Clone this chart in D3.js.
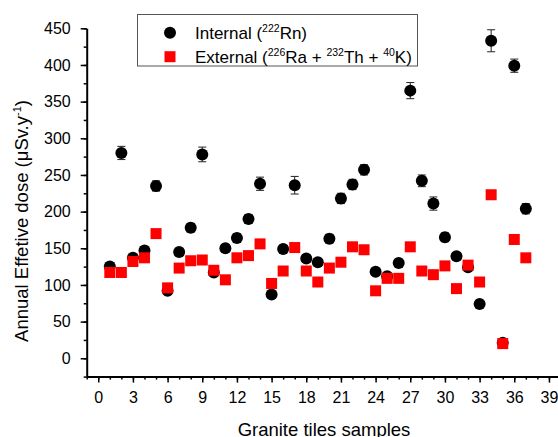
<!DOCTYPE html>
<html>
<head>
<meta charset="utf-8">
<script src="https://cdn.jsdelivr.net/npm/d3@7"></script>
<style>
body { margin: 0; background: #fff; }
svg { display: block; font-family: "Liberation Sans", Arial, sans-serif; }
</style>
</head>
<body>
<svg width="558" height="437"></svg>
<script>
// sample numbers 1..37
var samples = [1,2,3,4,5,6,7,8,9,10,11,12,13,14,15,16,17,18,19,20,21,22,23,24,25,26,27,28,29,30,31,32,33,34,35,36,37];
// Internal (222Rn)
var internal = [125,280,137,147,235,92,145,178,278,117,150,164,190,238,87,149,236,136,131,163,218,237,257,118,112,130,365,242,211,165,139,124,74,433,21,399,204];
var internalErr = [5,9,5,5,7,4,5,6,10,4,5,6,6,9,3,5,12,5,5,6,7,7,7,4,4,5,11,8,9,6,5,4,3,15,1,9,7];
// External (226Ra + 232Th + 40K)
var external = [117,117,132,137,170,96,123,133,134,120,107,137,140,156,102,119,151,119,104,123,131,152,148,92,109,109,152,119,114,126,95,127,104,223,20,162,137];

var xMajor = [0,3,6,9,12,15,18,21,24,27,30,33,36,39];
var yMajor = [0,50,100,150,200,250,300,350,400,450];

var svg = d3.select("svg");

var x = d3.scaleLinear().domain([-1, 40]).range([86.7, 560.5]);
var y = d3.scaleLinear().domain([-25, 450]).range([376.6, 28.3]);

// minor ticks
var xMinor = d3.range(-1, 41);
var yMinor = d3.range(-25, 451, 25);

svg.append("g")
	.attr("transform", "translate(0," + y(-25) + ")")
	.call(d3.axisBottom(x).tickValues(xMinor).tickSize(3).tickFormat(""))
	.call(function(g){ g.select(".domain").remove(); g.selectAll("line").attr("stroke-width", 1.5); });
svg.append("g")
	.attr("transform", "translate(" + x(-1) + ",0)")
	.call(d3.axisLeft(y).tickValues(yMinor).tickSize(3).tickFormat(""))
	.call(function(g){ g.select(".domain").remove(); g.selectAll("line").attr("stroke-width", 1.5); });

var xAxis = svg.append("g")
	.attr("transform", "translate(0," + y(-25) + ")")
	.call(d3.axisBottom(x).tickValues(xMajor).tickSize(6).tickSizeOuter(0).tickPadding(9));
var yAxis = svg.append("g")
	.attr("transform", "translate(" + x(-1) + ",0)")
	.call(d3.axisLeft(y).tickValues(yMajor).tickSize(6).tickSizeOuter(0).tickPadding(10));

[xAxis, yAxis].forEach(function(a){
	a.select(".domain").attr("stroke", "#000").attr("stroke-width", 2);
	a.selectAll(".tick line").attr("stroke", "#000").attr("stroke-width", 1.5);
	a.selectAll(".tick text").attr("fill", "#000").style("font-size", "16px");
});

// error bars
var eb = svg.append("g").attr("stroke", "#222").attr("stroke-width", 1);
samples.forEach(function(s, i){
	var lo = y(internal[i] - internalErr[i]), hi = y(internal[i] + internalErr[i]);
	eb.append("line").attr("x1", x(s)).attr("x2", x(s)).attr("y1", lo).attr("y2", hi);
	eb.append("line").attr("x1", x(s) - 4).attr("x2", x(s) + 4).attr("y1", lo).attr("y2", lo);
	eb.append("line").attr("x1", x(s) - 4).attr("x2", x(s) + 4).attr("y1", hi).attr("y2", hi);
});

svg.append("g").selectAll("circle")
	.data(samples)
	.join("circle")
	.attr("cx", function(d){ return x(d); })
	.attr("cy", function(d, i){ return y(internal[i]); })
	.attr("r", 6)
	.attr("fill", "#000");

svg.append("g").selectAll("rect")
	.data(samples)
	.join("rect")
	.attr("x", function(d){ return x(d) - 5.5; })
	.attr("y", function(d, i){ return y(external[i]) - 5.5; })
	.attr("width", 11)
	.attr("height", 11)
	.attr("fill", "#ff0000");

// axis titles
svg.append("text")
	.attr("x", 324)
	.attr("y", 436)
	.attr("text-anchor", "middle")
	.style("font-size", "18.5px")
	.text("Granite tiles samples");

var yt = svg.append("text")
	.attr("transform", "translate(27.5,221) rotate(-90)")
	.attr("text-anchor", "middle")
	.style("font-size", "18.5px");
yt.append("tspan").text("Annual Effetive dose (\u03bcSv.y");
yt.append("tspan").attr("dy", "-7").style("font-size", "11px").text("-1");
yt.append("tspan").attr("dy", "7").text(")");

// legend
var lg = svg.append("g");
lg.append("rect")
	.attr("x", 137.5).attr("y", 14.5)
	.attr("width", 280).attr("height", 51.5)
	.attr("fill", "#fff").attr("stroke", "#555").attr("stroke-width", 1);
lg.append("circle").attr("cx", 170).attr("cy", 32.7).attr("r", 6).attr("fill", "#000");
lg.append("rect").attr("x", 164.5).attr("y", 51.2).attr("width", 11).attr("height", 11).attr("fill", "#ff0000");

function legendText(yPos, parts){
	var t = lg.append("text").attr("x", 195).attr("y", yPos).style("font-size", "17px");
	parts.forEach(function(p){
		if (p[1]) {
			t.append("tspan").attr("dy", "-6.5").style("font-size", "10.5px").text(p[0]);
		} else {
			t.append("tspan").attr("dy", p[2] ? "6.5" : "0").text(p[0]);
		}
	});
}
legendText(38.5, [["Internal ("], ["222", true], ["Rn)", false, true]]);
legendText(62.7, [["External ("], ["226", true], ["Ra + ", false, true], ["232", true], ["Th + ", false, true], ["40", true], ["K)", false, true]]);
</script>
</body>
</html>
